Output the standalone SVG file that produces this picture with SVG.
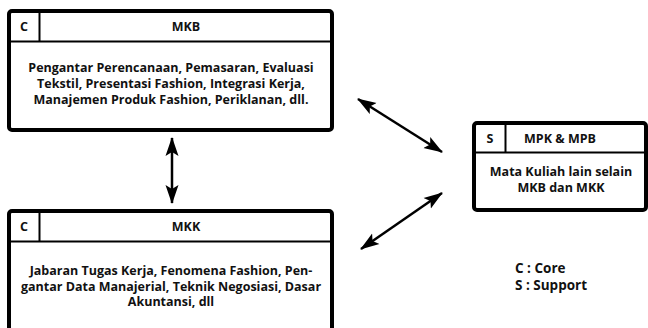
<svg xmlns="http://www.w3.org/2000/svg" width="648" height="328" viewBox="0 0 648 328">
<style>
.box{fill:#fff;stroke:#000;stroke-width:4}
.div{stroke:#000;stroke-width:2;fill:none}
text{font-family:"Open Sans","Liberation Sans",sans-serif;font-weight:700;fill:#111;text-anchor:middle}
.h{font-size:12.5px}
.b{font-size:12.5px}
.lg{font-size:13.5px;text-anchor:start}
.con{stroke:#000;stroke-width:2.5;fill:none;marker-start:url(#ah);marker-end:url(#ah)}
</style>
<defs>
<marker id="ah" viewBox="0 0 19 14" refX="18" refY="7" markerWidth="19" markerHeight="14" markerUnits="userSpaceOnUse" orient="auto-start-reverse">
<path d="M0,0.5 L19,7 L0,13.5 L4,7 z" fill="#000"/>
</marker>
</defs>
<rect width="648" height="328" fill="#fff"/>
<g id="mkb">
<rect class="box" x="9" y="11" width="323" height="119" rx="3"/>
<line class="div" x1="9" y1="41.5" x2="332" y2="41.5"/>
<line class="div" x1="39.5" y1="11" x2="39.5" y2="41.5"/>
<text class="h" x="24" y="31">C</text>
<text class="h" x="186" y="31">MKB</text>
<text class="b" x="171" y="72">Pengantar Perencanaan, Pemasaran, Evaluasi</text>
<text class="b" x="171" y="88">Tekstil, Presentasi Fashion, Integrasi Kerja,</text>
<text class="b" x="171" y="104">Manajemen Produk Fashion, Periklanan, dll.</text>
</g>
<g id="mkk">
<rect class="box" x="9" y="211" width="323" height="125" rx="3"/>
<line class="div" x1="9" y1="241.5" x2="332" y2="241.5"/>
<line class="div" x1="39.5" y1="211" x2="39.5" y2="241.5"/>
<text class="h" x="24" y="231">C</text>
<text class="h" x="186" y="231">MKK</text>
<text class="b" x="171" y="275">Jabaran Tugas Kerja, Fenomena Fashion, Pen-</text>
<text class="b" x="171" y="290.5">gantar Data Manajerial, Teknik Negosiasi, Dasar</text>
<text class="b" x="171" y="306">Akuntansi, dll</text>
</g>
<g id="mpk">
<rect class="box" x="474" y="123" width="172" height="87" rx="3"/>
<line class="div" x1="474" y1="152.5" x2="646" y2="152.5"/>
<line class="div" x1="505.5" y1="123" x2="505.5" y2="152.5"/>
<text class="h" x="490" y="143">S</text>
<text class="h" x="560" y="143">MPK &amp; MPB</text>
<text class="b" x="561" y="176">Mata Kuliah lain selain</text>
<text class="b" x="561" y="192">MKB dan MKK</text>
</g>
<g id="legend">
<text class="lg" x="515" y="273">C : Core</text>
<text class="lg" x="515" y="290">S : Support</text>
</g>
<g id="connectors">
<line class="con" x1="172" y1="138" x2="172" y2="203"/>
<line class="con" x1="358" y1="99" x2="442" y2="152"/>
<line class="con" x1="361" y1="249" x2="442" y2="193"/>
</g>
</svg>
